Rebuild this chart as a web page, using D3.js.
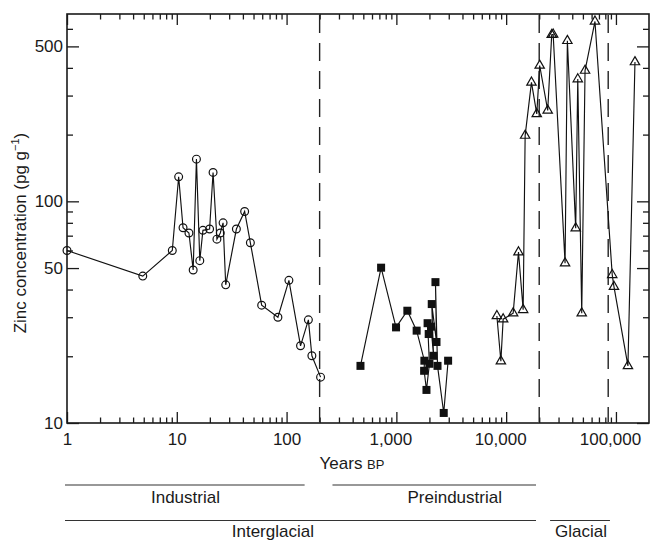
<!DOCTYPE html>
<html>
<head>
<meta charset="utf-8">
<script src="https://cdn.jsdelivr.net/npm/d3@7"></script>
<style>
  html, body { margin: 0; padding: 0; background: #fff; }
  svg { display: block; }
  text { font-family: "Liberation Sans", Arial, Helvetica, sans-serif; fill: #1a1a1a; }
</style>
</head>
<body>
<svg id="chart" width="650" height="542"></svg>
<script>
// ---- data ----
const circleYears = [1, 4.9, 9.1, 10.4, 11.4, 12.9, 14.1, 15.1, 16.2, 17.3, 19.9, 21.4, 23.2, 24.9, 26.4, 27.9, 34.9, 41.5, 46.8, 59.3, 83.4, 105, 134, 158, 170, 204];
const circleZinc  = [60, 46, 60, 129, 76, 72, 49, 155, 54, 74, 75, 135, 67.5, 72, 80, 42, 75, 90, 65, 34, 30, 44, 22.3, 29.2, 20.1, 16.1];

const squareYears = [471, 726, 993, 1259, 1530, 1800, 1790, 1880, 2000, 1925, 1970, 2070, 2180, 2100, 2320, 2270, 2370, 2700, 2960];
const squareZinc  = [18.1, 50.2, 27.0, 32.1, 26.1, 19.1, 17.2, 14.1, 18.5, 28.2, 25.2, 27.2, 20.1, 34.4, 23.2, 43.2, 18.1, 11.1, 19.1];

const triangleYears = [8230, 8950, 9390, 11580, 12950, 14280, 14890, 17000, 19000, 20200, 23900, 26000, 26800, 34400, 36100, 43000, 44900, 48800, 52300, 64400, 92500, 95900, 128600, 149000];
const triangleZinc  = [30.4, 19.0, 29.4, 31.3, 59.0, 32.4, 198, 344, 248, 410, 257, 564, 566, 52.6, 530, 75.7, 356, 31.3, 389, 648, 46.6, 41.2, 18.1, 425];

const dividerYears = [200, 20000, 85000];

const xMajorTicks = [1, 10, 100, 1000, 10000, 100000];
const xTickLabels = ["1", "10", "100", "1,000", "10,000", "100,000"];
const yMajorTicks = [10, 50, 100, 500];
const yTickLabels = ["10", "50", "100", "500"];
const yMinorTicks = [20, 30, 40, 60, 70, 80, 90, 200, 300, 400, 600];

const periodNames  = ["Industrial", "Preindustrial", "Interglacial", "Glacial"];
const periodStart  = [1, 273, 1, 26200];
const periodEnd    = [146, 18700, 18700, 88200];
const periodLabelAt = [12, 3400, 75, 48000];
const periodRow    = [0, 0, 1, 1];

// ---- layout ----
const svg = d3.select("#chart");
const plotLeft = 67, plotRight = 649, plotTop = 14, plotBottom = 423;

const x = d3.scaleLog().domain([1, 200000]).range([plotLeft, plotRight]);
const y = d3.scaleLog().domain([10, 700]).range([plotBottom, plotTop]);

const xMinorTicks = [];
for (let d = 1; d <= 100000; d *= 10) {
  for (let k = 2; k <= 9; k++) { if (d * k < 200000) xMinorTicks.push(d * k); }
}

const axisColor = "#1a1a1a";
function styleAxis(g) {
  g.select(".domain").remove();
  g.selectAll(".tick line").attr("stroke", axisColor).attr("stroke-width", 1.3);
  g.selectAll(".tick text").attr("font-size", 17).attr("fill", "#1a1a1a")
    .attr("font-family", "'Liberation Sans', Arial, Helvetica, sans-serif");
}

// bottom axis (inward ticks)
svg.append("g").attr("transform", `translate(0,${plotBottom})`)
  .call(d3.axisBottom(x).tickValues(xMinorTicks).tickSize(-5.5).tickFormat(""))
  .call(styleAxis);
const bx = svg.append("g").attr("transform", `translate(0,${plotBottom})`)
  .call(d3.axisBottom(x).tickValues(xMajorTicks).tickSize(-11).tickPadding(10)
    .tickFormat((d, i) => xTickLabels[i]))
  .call(styleAxis);
bx.selectAll(".tick text").attr("dx", d => d >= 1000 ? -6 : 0);

// top axis (inward ticks)
svg.append("g").attr("transform", `translate(0,${plotTop})`)
  .call(d3.axisTop(x).tickValues(xMinorTicks).tickSize(-5.5).tickFormat(""))
  .call(styleAxis);
svg.append("g").attr("transform", `translate(0,${plotTop})`)
  .call(d3.axisTop(x).tickValues(xMajorTicks).tickSize(-11).tickFormat(""))
  .call(styleAxis);

// left axis
svg.append("g").attr("transform", `translate(${plotLeft},0)`)
  .call(d3.axisLeft(y).tickValues(yMinorTicks).tickSize(-6).tickFormat(""))
  .call(styleAxis);
svg.append("g").attr("transform", `translate(${plotLeft},0)`)
  .call(d3.axisLeft(y).tickValues(yMajorTicks).tickSize(-12).tickPadding(4)
    .tickFormat((d, i) => yTickLabels[i]))
  .call(styleAxis);

// right axis
svg.append("g").attr("transform", `translate(${plotRight},0)`)
  .call(d3.axisRight(y).tickValues(yMinorTicks).tickSize(-6).tickFormat(""))
  .call(styleAxis);
svg.append("g").attr("transform", `translate(${plotRight},0)`)
  .call(d3.axisRight(y).tickValues(yMajorTicks).tickSize(-12).tickFormat(""))
  .call(styleAxis);

// frame
svg.append("rect")
  .attr("x", plotLeft).attr("y", plotTop)
  .attr("width", plotRight - plotLeft).attr("height", plotBottom - plotTop)
  .attr("fill", "none").attr("stroke", axisColor).attr("stroke-width", 1.6);

// dashed dividers
svg.append("g").selectAll("line").data(dividerYears).join("line")
  .attr("x1", d => x(d)).attr("x2", d => x(d))
  .attr("y1", plotTop + 1).attr("y2", plotBottom - 1)
  .attr("stroke", "#222").attr("stroke-width", 1.4)
  .attr("stroke-dasharray", "18,10");

// series
const line = d3.line().x(d => x(d[0])).y(d => y(d[1]));
const circles = d3.zip(circleYears, circleZinc);
const squares = d3.zip(squareYears, squareZinc);
const triangles = d3.zip(triangleYears, triangleZinc);

[circles, squares, triangles].forEach(s => {
  svg.append("path").datum(s).attr("d", line)
    .attr("fill", "none").attr("stroke", "#111").attr("stroke-width", 1.15);
});

svg.append("g").selectAll("circle").data(circles).join("circle")
  .attr("cx", d => x(d[0])).attr("cy", d => y(d[1])).attr("r", 3.9)
  .attr("fill", "none").attr("stroke", "#111").attr("stroke-width", 1.2);

svg.append("g").selectAll("rect").data(squares).join("rect")
  .attr("x", d => x(d[0]) - 4).attr("y", d => y(d[1]) - 4)
  .attr("width", 8).attr("height", 8).attr("fill", "#111");

const tri = d3.symbol().type(d3.symbolTriangle).size(38);
svg.append("g").selectAll("path").data(triangles).join("path")
  .attr("d", tri)
  .attr("transform", d => `translate(${x(d[0])},${y(d[1])})`)
  .attr("fill", "none").attr("stroke", "#111").attr("stroke-width", 1.2);

// axis titles
const xt = svg.append("text").attr("x", 352).attr("y", 469)
  .attr("text-anchor", "middle").attr("font-size", 17);
xt.append("tspan").text("Years ");
xt.append("tspan").attr("font-size", 13).text("BP");

const yt = svg.append("text").attr("transform", "translate(26,233) rotate(-90)")
  .attr("text-anchor", "middle").attr("font-size", 17);
yt.append("tspan").text("Zinc concentration (pg g");
yt.append("tspan").attr("font-size", 11).attr("dy", -7).text("\u22121");
yt.append("tspan").attr("dy", 7).text(")");

// period bars
const rowY = [485, 520.5];
const rowText = [503, 537];
const pg = svg.append("g");
periodNames.forEach((name, i) => {
  pg.append("line")
    .attr("x1", x(periodStart[i]) - 2).attr("x2", x(periodEnd[i]))
    .attr("y1", rowY[periodRow[i]]).attr("y2", rowY[periodRow[i]])
    .attr("stroke", "#333").attr("stroke-width", 1.2);
  pg.append("text")
    .attr("x", x(periodLabelAt[i])).attr("y", rowText[periodRow[i]])
    .attr("text-anchor", "middle").attr("font-size", 17).text(name);
});
</script>
</body>
</html>
